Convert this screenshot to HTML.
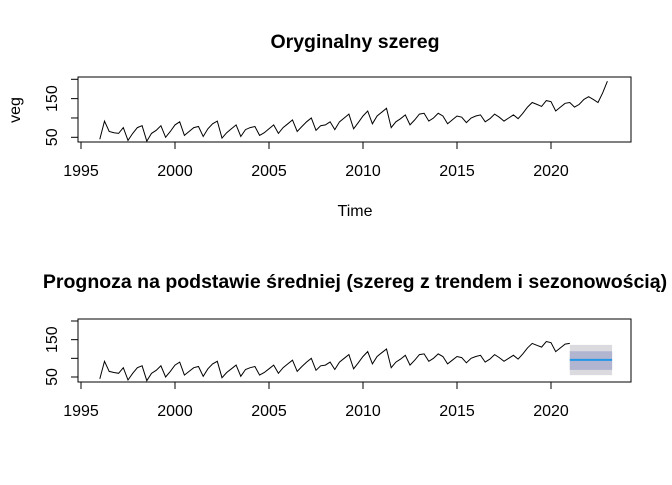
<!DOCTYPE html>
<html><head><meta charset="utf-8"><style>
body{margin:0;background:#fff}
svg text{font-family:"Liberation Sans",Arial,sans-serif;fill:#000}
</style></head><body>
<svg id="c" width="672" height="480" xmlns="http://www.w3.org/2000/svg">
<rect width="672" height="480" fill="#fff"/>
</svg>
<script>
const years=[1995,2000,2005,2010,2015,2020];
const yTicks=[50,100,150,200];
const yTickLabels=["50","","150",""];
const series=[45,92,65,62, 60,75,42,60, 75,80,40,60, 68,80,50,65, 82,90,55,65, 75,78,52,72, 85,92,48,62, 72,82,52,70, 75,78,55,62, 72,82,60,75, 85,95,65,78, 90,100,68,80, 82,90,70,90, 100,110,72,88, 105,118,85,105, 115,125,75,90, 98,108,82,95, 110,112,92,100, 112,105,85,95, 105,102,88,100, 105,108,90,98, 110,102,92,100, 108,98,112,128, 140,135,130,145, 142,118,128,138, 140,128,135,148, 155,148,140,165, 195];
const startYear=1996, freq=4;
const cutYear=2021;
const fcStart=2021, fcEnd=2023.25;
const fcMean=[96];
const fc80=[69,119];
const fc95=[55,136];

const svg=document.getElementById('c');
const NS='http://www.w3.org/2000/svg';
function mk(tag,attrs,name,parent){const e=document.createElementNS(NS,tag);for(const k in attrs)e.setAttribute(k,attrs[k]);


(parent||svg).appendChild(e);return e;}
const xs=y=>81+(y-1995)*18.8;
function panel(top,bottom,y50,y200,title,titleY,pfx,withTime,cut){
  const ys=v=>y50+(v-50)*(y200-y50)/150;
  const g=mk('g',{},pfx+'-panel');
  const t=mk('text',{x:355,y:titleY,'text-anchor':'middle','font-size':'19.5','font-weight':'bold'},pfx+'-title',g);t.textContent=title;
  if(pfx==='forecast'){
    mk('rect',{x:xs(fcStart),y:ys(fc95[1]),width:xs(fcEnd)-xs(fcStart),height:ys(fc95[0])-ys(fc95[1]),fill:'#dbdbdf'},'ci-95-band',g);
    mk('rect',{x:xs(fcStart),y:ys(fc80[1]),width:xs(fcEnd)-xs(fcStart),height:ys(fc80[0])-ys(fc80[1]),fill:'#b1b5d0'},'ci-80-band',g);
    mk('line',{x1:xs(fcStart),x2:xs(fcEnd),y1:ys(fcMean[0]),y2:ys(fcMean[0]),stroke:'#2297e6','stroke-width':2},'forecast-mean-line',g);
  }
  let pts=[];
  series.forEach((v,i)=>{const yr=startYear+i/freq; if(cut&&yr>cut)return; pts.push(xs(yr).toFixed(1)+','+ys(v).toFixed(1));});
  mk('polyline',{points:pts.join(' '),fill:'none',stroke:'#000','stroke-width':1},pfx+'-series-line',g);
  mk('rect',{x:78,y:top,width:553,height:bottom-top,fill:'none',stroke:'#000','stroke-width':1},pfx+'-plot-box',g);
  years.forEach(y=>{
    mk('line',{x1:xs(y),x2:xs(y),y1:bottom,y2:bottom+7,stroke:'#000'},pfx+'-x-tick',g);
    const l=mk('text',{x:xs(y),y:bottom+34,'text-anchor':'middle','font-size':'16'},pfx+'-x-tick-label',g);l.textContent=y;
  });
  yTicks.forEach((v,i)=>{
    mk('line',{x1:71,x2:78,y1:ys(v),y2:ys(v),stroke:'#000'},pfx+'-y-tick',g);
    if(yTickLabels[i]){const l=mk('text',{x:0,y:0,'text-anchor':'middle','font-size':'16',transform:`translate(57,${ys(v)}) rotate(-90)`},pfx+'-y-tick-label',g);l.textContent=yTickLabels[i];}
  });
  if(withTime){
    const a=mk('text',{x:355,y:216,'text-anchor':'middle','font-size':'16'},'x-axis-title',g);a.textContent='Time';
    const b=mk('text',{x:0,y:0,'text-anchor':'middle','font-size':'16',transform:'translate(20,110) rotate(-90)'},'y-axis-title',g);b.textContent='veg';
  }
}
panel(77,142,137.3,79.3,'Oryginalny szereg',48,'original',true,null);
panel(319,382,377,321,'Prognoza na podstawie średniej (szereg z trendem i sezonowością)',288,'forecast',false,cutYear);
</script>
</body></html>
